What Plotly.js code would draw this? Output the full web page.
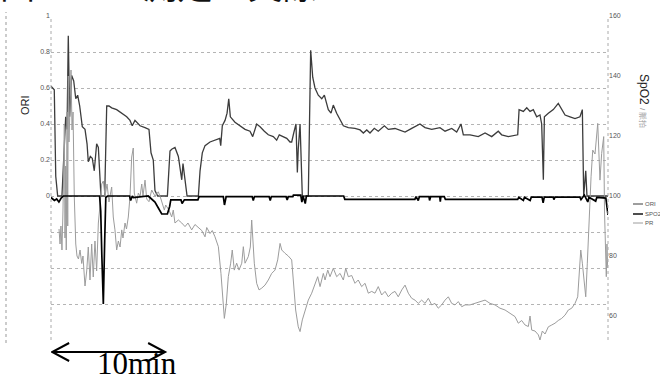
<!DOCTYPE html>
<html><head><meta charset="utf-8">
<script src="https://cdn.plot.ly/plotly-3.0.1.min.js"></script>
<style>body{margin:0;background:#fff}#chart{width:660px;height:375px}</style>
</head><body><div id="chart"></div>
<script>
// time in minutes
const oriTime = [0,0.29,0.42,0.59,0.97,1.18,1.30,1.42,1.53,1.65,1.83,2.01,2.19,2.36,2.54,2.77,3.01,3.19,3.30,3.48,3.65,3.83,4.04,4.19,4.34,4.42,4.75,4.93,5.13,5.37,5.81,6.26,6.70,6.99,7.19,7.43,7.88,8.32,8.67,8.85,9.05,9.20,9.44,10.30,10.53,10.68,10.97,11.27,11.42,11.57,11.68,11.85,12.04,13.04,13.19,13.39,13.63,14.07,14.51,14.93,15.02,15.16,15.40,15.58,15.73,15.87,16.28,16.73,17.17,17.61,17.85,18.20,18.50,18.88,19.23,19.67,19.97,20.20,20.56,20.86,21.15,21.30,21.48,21.68,21.80,21.88,22.04,22.15,22.24,22.77,22.98,23.16,23.36,23.65,23.96,24.19,24.40,24.54,24.78,24.98,25.28,25.58,25.87,26.31,26.90,27.35,27.64,27.94,28.23,28.61,28.96,29.50,29.85,30.44,30.88,31.33,31.92,32.65,33.10,33.69,34.42,34.87,35.46,35.90,36.28,36.49,37.08,37.81,38.41,39.00,39.58,39.88,40.47,41.06,41.30,41.42,41.80,42.10,42.39,42.68,42.98,43.27,43.42,43.57,43.66,44.01,44.45,44.89,45.19,45.49,45.93,46.37,46.81,47.02,47.14,47.32,47.43,49.29];
const oriValue = [0.61,0.59,0.11,0,0,0.26,0.44,0.37,0.89,0.44,0.67,0.64,0.54,0.56,0.50,0.385,0.37,0.29,0.19,0.22,0.21,0.14,0.29,0.27,0.10,0,0,0.50,0.50,0.49,0.48,0.46,0.44,0.42,0.39,0.42,0.39,0.38,0.37,0.24,0.20,0.03,0,0,0.25,0.26,0.27,0.22,0.16,0.09,0.18,0.08,0,0,0.14,0.24,0.28,0.30,0.31,0.32,0.28,0.39,0.42,0.46,0.54,0.44,0.41,0.39,0.37,0.36,0.33,0.40,0.385,0.36,0.34,0.33,0.31,0.34,0.33,0.32,0.30,0.30,0.35,0.40,0.13,0.26,0.40,0.20,0,0,0.81,0.66,0.60,0.56,0.54,0.56,0.515,0.48,0.46,0.505,0.46,0.42,0.39,0.38,0.376,0.367,0.35,0.367,0.35,0.376,0.36,0.39,0.37,0.375,0.365,0.355,0.376,0.40,0.38,0.37,0.38,0.36,0.375,0.355,0.40,0.34,0.34,0.33,0.35,0.33,0.36,0.34,0.33,0.34,0.34,0.48,0.47,0.49,0.47,0.48,0.44,0.45,0.40,0.09,0.44,0.46,0.48,0.515,0.48,0.45,0.44,0.43,0.44,0.48,0,0.14,0,0];

const spo2Time = [0,0.3,0.5,0.7,0.9,1.1,4.3,4.4,4.5,4.63,4.75,4.85,5.0,6.95,7.05,7.2,7.3,8.6,8.9,9.2,9.5,9.8,10.3,10.5,10.6,11.5,11.6,11.8,13.0,13.1,15.25,15.35,15.5,17.8,17.9,18.0,19.3,19.4,19.5,20.8,20.9,21.0,21.4,21.45,22.1,22.2,22.3,22.5,22.6,25.9,26.0,32.2,32.3,32.5,32.6,33.45,33.5,33.6,34.4,34.45,34.5,34.8,34.9,41.3,41.4,41.8,41.9,42.4,42.5,43.45,43.55,43.65,44.45,44.5,44.6,46.8,46.9,47.1,47.2,47.5,47.6,47.8,48.2,48.3,48.6,49.1,49.29];
const spo2Value = [99.5,98.5,99,98,99.3,100,100,95,80,64,85,99.5,100,100,98.5,100,99.5,100,99,98,96,94,94,96.5,98.7,98.7,97.5,98.7,98.7,99.8,99.8,97,99.8,99.8,98.5,99.8,99.8,98.5,99.8,99.8,98.7,99.8,99.8,100.3,100.3,98,100,97.5,100,100,98.9,98.9,99.8,98.5,99.8,99.8,98.5,99.8,99.8,98.1,99.8,99.8,98.9,98.9,99.6,98.5,99.6,98.5,99.6,99.6,97.7,99.6,99.6,98.8,99.6,99.6,98.8,99.6,100.3,98,99.6,99.2,98.3,99.5,99.5,99.3,93.7];

const prTime = [0.71,0.80,0.88,0.97,1.06,1.18,1.24,1.30,1.35,1.42,1.48,1.53,1.59,1.68,1.77,1.86,1.95,2.06,2.19,2.30,2.43,2.57,2.72,2.83,3.01,3.16,3.30,3.45,3.60,3.74,3.89,4.04,4.19,4.34,4.49,4.63,4.78,4.96,5.13,5.37,5.51,5.66,5.81,5.96,6.11,6.26,6.37,6.55,6.68,6.84,6.99,7.14,7.28,7.37,7.58,7.73,7.88,8.03,8.14,8.32,8.47,8.67,8.91,9.20,9.50,9.73,10.03,10.15,10.44,10.68,10.82,10.97,11.27,11.57,11.86,12.12,12.45,12.74,13.04,13.34,13.63,13.78,14.07,14.27,14.51,14.81,15.04,15.19,15.34,15.51,15.69,15.90,16.04,16.22,16.43,16.64,16.88,17.02,17.17,17.46,17.64,17.76,17.88,17.99,18.20,18.41,18.65,18.94,19.23,19.53,19.82,20.06,20.27,20.42,20.71,21.00,21.30,21.44,21.65,21.88,22.04,22.24,22.48,22.77,23.07,23.36,23.60,23.81,24.10,24.25,24.49,24.69,24.98,25.28,25.58,25.87,26.08,26.31,26.61,26.90,27.19,27.49,27.79,28.08,28.38,28.67,28.96,29.26,29.56,29.85,30.15,30.44,30.73,31.04,31.33,31.62,31.92,32.21,32.50,32.80,33.10,33.39,33.69,33.98,34.27,34.57,34.87,35.16,35.46,35.75,36.04,36.35,36.64,37.08,37.52,37.96,38.41,38.85,39.29,39.73,40.18,40.62,41.06,41.35,41.65,41.95,42.24,42.39,42.54,42.83,43.13,43.27,43.48,43.72,44.01,44.31,44.60,44.89,45.19,45.49,45.78,46.08,46.37,46.61,46.73,46.88,47.02,47.14,47.32,47.46,47.61,47.79,47.94,48.14,48.38,48.50,48.58,48.73,48.91,48.98,49.03,49.09,49.14,49.20,49.26];
const prValue = [89,84,90,82,95,124,86,110,82,128,90,140,118,135,142,122,128,100,84,80,79,82,77.5,80,70,75,83,72,84,73,85,75,91,97,104,105,100,104,98,103,93,88.7,82,85,83,88.7,86,91,89,93,99.8,113,116,101,97.6,101,99.8,104,100,105.3,99,98.1,102,100,101.4,99,95.3,97,95.3,93,95.3,91,92,91,89.8,91,88.7,90.5,89.5,88.5,86.4,89.5,87.5,88.5,86.4,83.1,74.2,65,59.2,64,73.1,77.6,82,75.3,77.6,75.3,77.6,83.1,77.6,79.8,83,92,83,77.6,70.9,68.7,69.3,70.3,72,74.2,75.3,78.7,84.2,82,80.9,80,78.7,71,62,56.4,54.8,58.7,62,65.3,67.6,70.9,73.1,69.8,74.2,72,75.3,73.1,75.9,73.1,74.2,72,75.9,73.1,73.5,70.9,72,69.8,70.9,67.6,68.2,67.6,69.8,67,68.2,66.4,67.6,68.2,66.4,68.7,70.3,67.6,65.9,65.3,64.2,65.3,64.2,65.9,63.7,64.2,62.6,63.7,65.3,66.4,64.2,63.7,64.8,63.1,63.7,63.7,64.2,64.8,65.3,64.2,63.7,62.6,62,60.9,59.8,57.6,58.5,57,56.5,60,55.3,55,53.7,52,55,54,56.4,57,57.6,58.5,59.2,60.3,62,62.6,64.2,66.4,74.2,82,77.6,73,66.4,77.6,93,106.4,115.3,114,124.2,114,105.3,114.2,119.8,95,86.4,78,73.1,84,76];

const seriesNames = ['ORI', 'SPO2', 'PR'];
const oriTickVals = [-0.8,-0.6,-0.4,-0.2,0,0.2,0.4,0.6,0.8,1];
const oriTickText = ['','','','','0','0.2','0.4','0.6','0.8','1'];
const rightTickVals = [60,80,100,120,140,160];
const titleText = '図１<span style="font-size:25px">　ORI </span>測定の実際';
const scaleBarStart = 0.1;
const scaleBarMinutes = 10;
const scaleBarLabel = '10min';

const colors = {ORI:'#3c3c3c', SPO2:'#000000', PR:'#9c9c9c'};
const widths = {ORI:1.3, SPO2:1.7, PR:1};

const traces = [
  {x: prTime, y: prValue, name: seriesNames[2], yaxis: 'y2', type: 'scatter', mode: 'lines',
   line: {color: colors.PR, width: widths.PR}},
  {x: oriTime, y: oriValue, name: seriesNames[0], yaxis: 'y', type: 'scatter', mode: 'lines',
   line: {color: colors.ORI, width: widths.ORI}},
  {x: spo2Time, y: spo2Value, name: seriesNames[1], yaxis: 'y2', type: 'scatter', mode: 'lines',
   line: {color: colors.SPO2, width: widths.SPO2}}
];

const W = 660, H = 375, ml = 51, mr = 52, mt = 16, mb = 35;
const pw = W - ml - mr, ph = H - mt - mb;
const px = v => (v - ml) / pw;           // pixel x -> paper
const py = v => (H - mb - v) / ph;       // pixel y -> paper
const xMax = 49.29;
const minPerPx = xMax / pw;

const shapes = [
  {type:'line', xref:'paper', yref:'paper', x0:0, x1:0, y0:0, y1:1, line:{color:'#aaa', width:1, dash:'dot'}},
  {type:'line', xref:'paper', yref:'paper', x0:1, x1:1, y0:0, y1:1, line:{color:'#aaa', width:1, dash:'dot'}},
  {type:'line', xref:'paper', yref:'paper', x0:px(6), x1:px(6), y0:py(343), y1:py(12), line:{color:'#999', width:1, dash:'dot'}}
];
// 10-minute scale bar (double arrow)
const arrowY = py(352), headL = 17 * minPerPx, headH = 9 / ph;
const a0 = scaleBarStart, a1 = scaleBarStart + scaleBarMinutes;
shapes.push({type:'line', xref:'x', yref:'paper', x0:a0, x1:a1, y0:arrowY, y1:arrowY, line:{color:'#000', width:2}});
shapes.push({type:'path', xref:'x', yref:'paper', line:{color:'#000', width:2},
  path:`M${a0 + headL},${arrowY + headH} L${a0},${arrowY} L${a0 + headL},${arrowY - headH}`});
shapes.push({type:'path', xref:'x', yref:'paper', line:{color:'#000', width:2},
  path:`M${a1 - headL},${arrowY + headH} L${a1},${arrowY} L${a1 - headL},${arrowY - headH}`});

const annotations = [
  {xref:'paper', yref:'paper', x:px(-2), y:py(11), xanchor:'left', yanchor:'bottom', showarrow:false,
   text: titleText, font:{family:'Noto Sans CJK JP', size:35, color:'#111'}},
  {xref:'paper', yref:'paper', x:px(25), y:py(105), xanchor:'center', yanchor:'middle', showarrow:false,
   text:'ORI', textangle:-90, font:{family:'Liberation Sans', size:11, color:'#222'}},
  {xref:'paper', yref:'paper', x:px(644), y:py(101), xanchor:'center', yanchor:'middle', showarrow:false,
   text:'SpO2 <span style="font-size:8px;color:#999">/ 脈拍</span>', textangle:90,
   font:{family:'Liberation Sans', size:12, color:'#222'}},
  {xref:'paper', yref:'paper', x:px(137), y:py(363), xanchor:'center', yanchor:'middle', showarrow:false,
   text: scaleBarLabel, font:{family:'Liberation Serif', size:31, color:'#000'}}
];
// compact legend built from the series names
const legendY = [204, 214, 223];
seriesNames.forEach((n, i) => {
  shapes.push({type:'line', xref:'paper', yref:'paper', x0:px(633), x1:px(643), y0:py(legendY[i]), y1:py(legendY[i]),
    line:{color: colors[n], width: Math.max(1, widths[n] - 0.3)}});
  annotations.push({xref:'paper', yref:'paper', x:px(643), y:py(legendY[i]), xanchor:'left', yanchor:'middle',
    showarrow:false, text:n, font:{family:'Liberation Sans', size:6, color:'#555'}});
});

const layout = {
  width: W, height: H, autosize: false,
  margin: {l: ml, r: mr, t: mt, b: mb, pad: 0},
  paper_bgcolor: '#fff', plot_bgcolor: '#fff',
  showlegend: false,
  xaxis: {range: [0, xMax], showgrid: false, zeroline: false, showline: false, showticklabels: false, ticks: ''},
  yaxis: {range: [-0.8, 1], tickvals: oriTickVals, ticktext: oriTickText, showgrid: true,
          gridcolor: '#b4b4b4', griddash: 'dot', gridwidth: 1, zeroline: false, showline: false, ticks: '',
          tickfont: {family: 'Liberation Sans', size: 7, color: '#555'}},
  yaxis2: {range: [52, 160], overlaying: 'y', side: 'right', tickvals: rightTickVals, showgrid: false,
           zeroline: false, showline: false, ticks: '',
           tickfont: {family: 'Liberation Sans', size: 7, color: '#555'}},
  shapes: shapes,
  annotations: annotations
};
Plotly.newPlot('chart', traces, layout, {displayModeBar: false, staticPlot: true});
</script>
</body></html>
